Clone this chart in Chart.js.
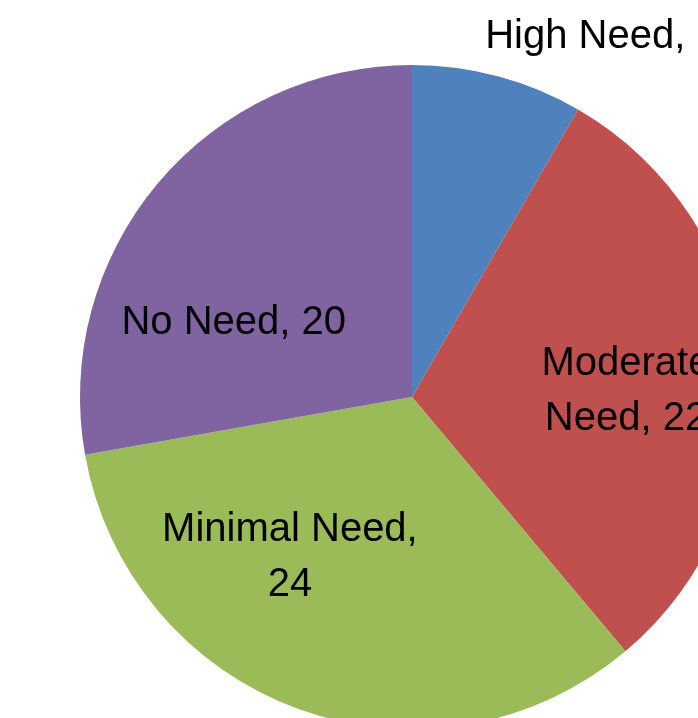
<!DOCTYPE html>
<html>
<head>
<meta charset="utf-8">
<script src="https://cdn.jsdelivr.net/npm/chart.js@4"></script>
<style>
  html, body { margin: 0; padding: 0; background: #fff; overflow: hidden; }
  body { width: 698px; height: 718px; position: relative; }
  #needPie { position: absolute; left: -3px; top: -18px; }
</style>
</head>
<body>
<canvas id="needPie" width="830" height="830"></canvas>
<script>
const categories = ['High Need', 'Moderate Need', 'Minimal Need', 'No Need'];
const needCounts = [6, 22, 24, 20];
const sliceColors = ['#4F81BD', '#C0504D', '#9BBB59', '#8064A2'];

// where each data label sits: angle from 12 o'clock (deg), distance as share of radius, wrap width
const labelAngles = [27.6, 87.6, 217.8, 293.4];
const labelDist = [1.235, 0.645, 0.6, 0.585];
const labelWrap = [400, 200, 290, 400];

function wrapWords(ctx, text, maxW) {
    const words = text.split(' ');
    const lines = [];
    let cur = '';
    words.forEach(w => {
        const test = cur ? cur + ' ' + w : w;
        if (cur && ctx.measureText(test).width > maxW) {
            lines.push(cur);
            cur = w;
        } else {
            cur = test;
        }
    });
    if (cur) lines.push(cur);
    return lines;
}

const pieLabels = {
    id: 'pieLabels',
    afterDatasetsDraw(chart) {
        const ctx = chart.ctx;
        const meta = chart.getDatasetMeta(0);
        ctx.save();
        ctx.font = '40px "Liberation Sans", Arial, sans-serif';
        ctx.fillStyle = '#000';
        ctx.textAlign = 'center';
        ctx.textBaseline = 'alphabetic';
        const lineH = 55;
        const capH = 28;
        meta.data.forEach((arc, i) => {
            const a = labelAngles[i] * Math.PI / 180;
            const r = arc.outerRadius * labelDist[i];
            const cx = arc.x + Math.sin(a) * r;
            const cy = arc.y - Math.cos(a) * r;
            const lines = wrapWords(ctx, categories[i] + ', ' + needCounts[i], labelWrap[i]);
            const firstBase = cy - (lines.length - 1) * lineH / 2 + capH / 2;
            lines.forEach((ln, k) => ctx.fillText(ln, cx, firstBase + k * lineH));
        });
        ctx.restore();
    }
};

new Chart(document.getElementById('needPie').getContext('2d'), {
    type: 'pie',
    data: {
        labels: categories,
        datasets: [{
            data: needCounts,
            backgroundColor: sliceColors,
            borderWidth: 0
        }]
    },
    options: {
        responsive: false,
        animation: false,
        devicePixelRatio: 1,
        layout: { padding: 83 },
        plugins: {
            legend: { display: false },
            tooltip: { enabled: false }
        }
    },
    plugins: [pieLabels]
});
</script>
</body>
</html>
